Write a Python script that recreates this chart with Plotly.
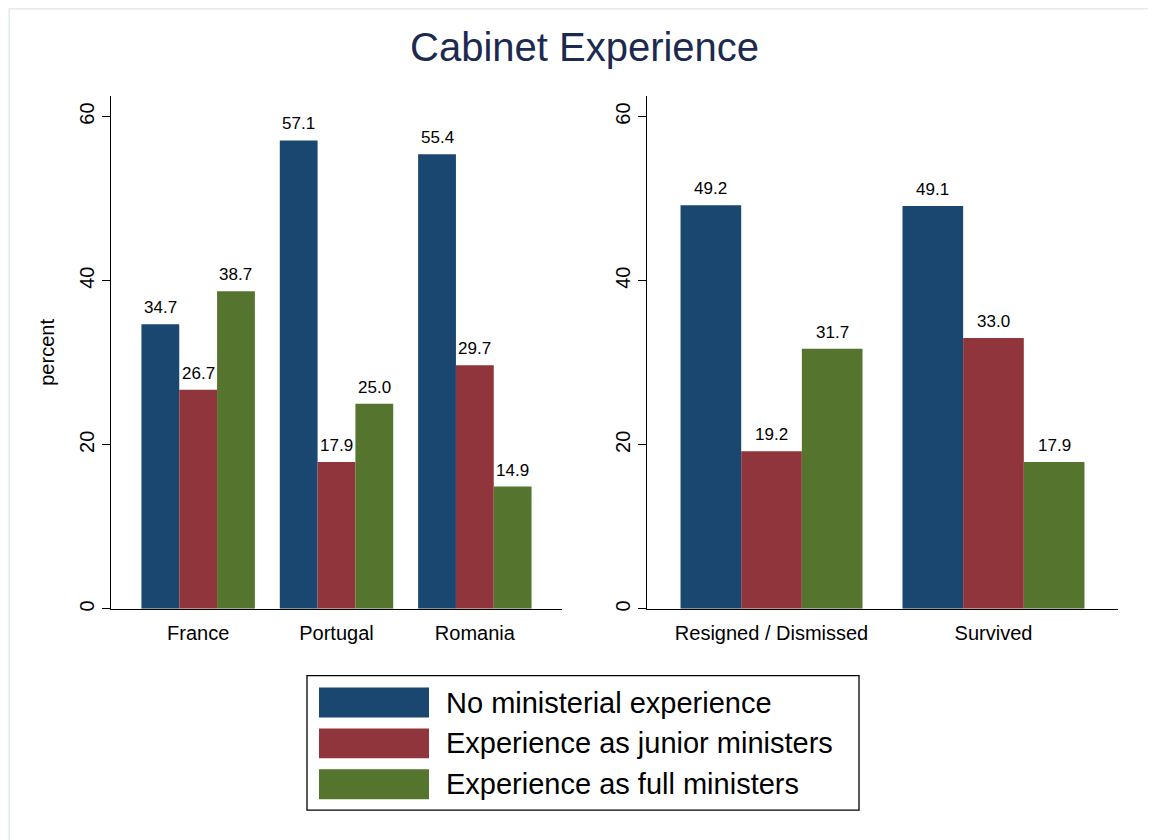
import plotly.graph_objects as go

# ---- data ----
countries = ["France", "Portugal", "Romania"]
outcomes = ["Resigned / Dismissed", "Survived"]
series_names = ["No ministerial experience",
                "Experience as junior ministers",
                "Experience as full ministers"]
country_vals = [
    [34.7, 57.1, 55.4],   # no ministerial experience
    [26.7, 17.9, 29.7],   # junior ministers
    [38.7, 25.0, 14.9],   # full ministers
]
outcome_vals = [
    [49.2, 49.1],
    [19.2, 33.0],
    [31.7, 17.9],
]
y_ticks = [0, 20, 40, 60]
colors = ["#1a476f", "#90353b", "#55752f"]

W, H = 1156, 840
OFF = 8  # page body margin
FONT = "Liberation Sans, Arial, Helvetica, sans-serif"
BARGAP = 0.18


def px(x):
    return (x - OFF) / W


def py(y):
    return 1 - (y - OFF) / H


fig = go.Figure()
annotations = []
nser = len(series_names)
bw = (1 - BARGAP) / nser
for i, name in enumerate(series_names):
    for cats, vals, xa, ya in ((countries, country_vals[i], "x", "y"),
                               (outcomes, outcome_vals[i], "x2", "y2")):
        fig.add_trace(go.Bar(
            x=cats, y=vals, name=name,
            marker=dict(color=colors[i], line=dict(width=0)),
            xaxis=xa, yaxis=ya, showlegend=False))
        for j, v in enumerate(vals):
            annotations.append(dict(
                text=f"{v:.1f}", xref=xa, yref=ya,
                x=j + (i - (nser - 1) / 2) * bw, y=v,
                xanchor="center", yanchor="bottom", yshift=5, showarrow=False,
                font=dict(size=17, color="black", family=FONT)))

ydom = [py(611), py(96)]
yrng = [0, 62.55]
common_y = dict(range=yrng, domain=ydom, tickvals=y_ticks, ticks="outside",
                ticklen=8, tickwidth=1.3, tickcolor="black", showline=True,
                linecolor="black", linewidth=1.3, showgrid=False, zeroline=False,
                tickangle=-90, tickfont=dict(size=20, family=FONT, color="black"),
                fixedrange=True)
common_x = dict(showline=True, linecolor="black", linewidth=1.3, ticks="",
                showgrid=False, zeroline=False, ticklabelstandoff=6,
                tickfont=dict(size=20, family=FONT, color="black"),
                fixedrange=True)

fig.update_layout(
    width=W, height=H, autosize=False,
    margin=dict(l=0, r=0, t=0, b=0),
    paper_bgcolor="white", plot_bgcolor="white",
    barmode="group", bargap=BARGAP, bargroupgap=0,
    showlegend=False,
    font=dict(family=FONT, color="black"),
    xaxis=dict(domain=[px(111), px(562)], range=[-0.63, 2.63], anchor="y", **common_x),
    yaxis=dict(anchor="x", **common_y),
    xaxis2=dict(domain=[px(647), px(1118)], range=[-0.561, 1.561], anchor="y2", **common_x),
    yaxis2=dict(anchor="x2", **common_y),
)

shapes = []
# faint outer frame
shapes.append(dict(type="rect", xref="paper", yref="paper",
                   x0=0.001, x1=1.01, y0=-0.01, y1=0.999,
                   line=dict(color="#e3ebef", width=1.5), fillcolor="rgba(0,0,0,0)",
                   layer="below"))
# title
annotations.append(dict(text="Cabinet Experience", xref="paper", yref="paper",
                        x=px(584), y=py(47), xanchor="center", yanchor="middle",
                        showarrow=False,
                        font=dict(size=40, color="#1c2a50", family=FONT)))
# y title
annotations.append(dict(text="percent", xref="paper", yref="paper",
                        x=px(47), y=py(354), xanchor="center", yanchor="middle",
                        textangle=-90, showarrow=False,
                        font=dict(size=20, color="black", family=FONT)))
# manual legend
shapes.append(dict(type="rect", xref="paper", yref="paper",
                   x0=px(307), x1=px(859), y0=py(813), y1=py(678),
                   line=dict(color="black", width=1.3), fillcolor="white"))
row_tops = [690, 731, 772]
for i, name in enumerate(series_names):
    t = row_tops[i]
    shapes.append(dict(type="rect", xref="paper", yref="paper",
                       x0=px(319), x1=px(429), y0=py(t + 30), y1=py(t),
                       line=dict(width=0), fillcolor=colors[i]))
    annotations.append(dict(text=name, xref="paper", yref="paper",
                            x=px(444), y=py(t + 15), xanchor="left", yanchor="middle",
                            showarrow=False,
                            font=dict(size=29, color="black", family=FONT)))

fig.update_layout(shapes=shapes, annotations=annotations)
fig.write_html("out.html")
